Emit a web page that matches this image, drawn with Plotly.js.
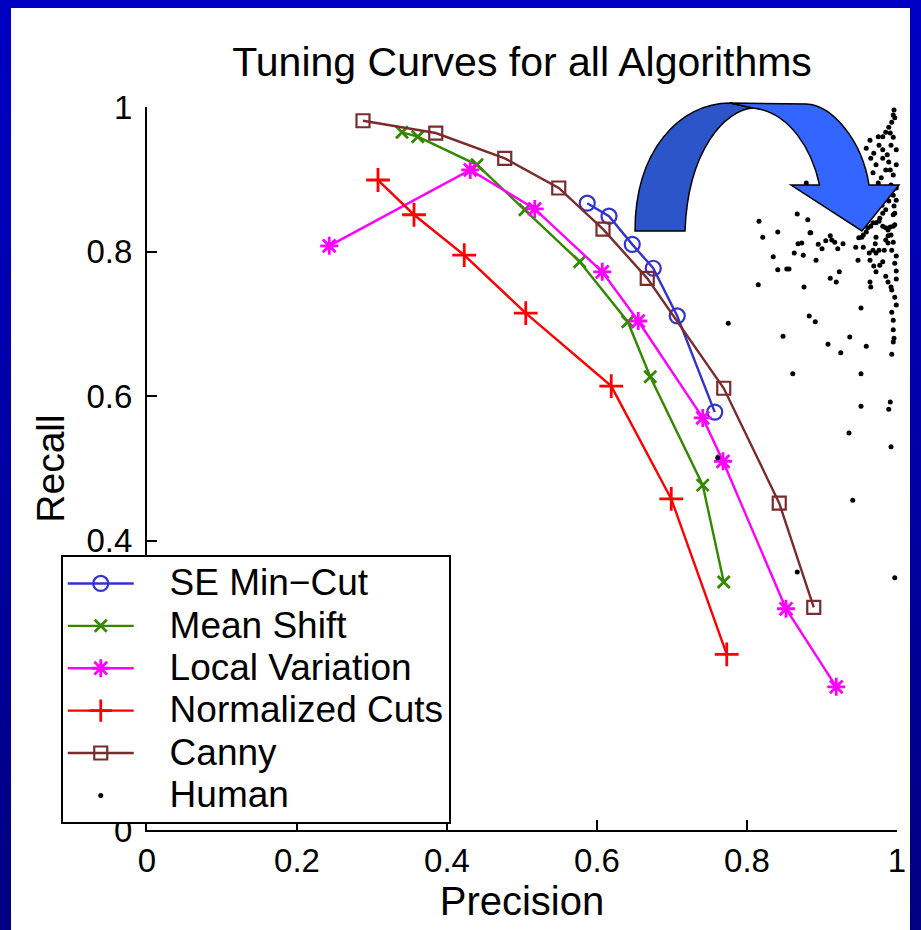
<!DOCTYPE html>
<html>
<head>
<meta charset="utf-8">
<script src="https://cdn.plot.ly/plotly-3.0.1.min.js"></script>
<style>
  html, body { margin: 0; padding: 0; width: 921px; height: 930px; overflow: hidden; }
  body { background: linear-gradient(to bottom, #0000C4 0%, #0000A8 45%, #000080 100%); position: relative; }
  #plot { position: absolute; left: 11px; top: 8px; width: 899px; height: 922px; background: #ffffff; }
</style>
</head>
<body>
<div id="plot"></div>
<script>
// ---- data ----
const seMinCutX = [0.587, 0.616, 0.647, 0.675, 0.707, 0.757];
const seMinCutY = [0.867, 0.849, 0.810, 0.777, 0.711, 0.578];

const meanShiftX = [0.340, 0.361, 0.440, 0.504, 0.577, 0.641, 0.671, 0.741, 0.769];
const meanShiftY = [0.965, 0.959, 0.920, 0.858, 0.786, 0.703, 0.627, 0.477, 0.343];

const localVarX = [0.243, 0.431, 0.517, 0.607, 0.655, 0.741, 0.768, 0.852, 0.919];
const localVarY = [0.808, 0.913, 0.859, 0.772, 0.704, 0.570, 0.510, 0.306, 0.198];

const ncutsX = [0.308, 0.356, 0.423, 0.505, 0.619, 0.699, 0.773];
const ncutsY = [0.899, 0.851, 0.795, 0.715, 0.614, 0.458, 0.243];

const cannyX = [0.288, 0.385, 0.477, 0.549, 0.608, 0.667, 0.769, 0.843, 0.889];
const cannyY = [0.981, 0.964, 0.929, 0.888, 0.831, 0.763, 0.611, 0.452, 0.308];

const humanX = [0.816,0.867,0.881,0.841,0.821,0.885,0.911,0.905,0.917,0.928,0.868,0.873,0.895,0.900,0.921,
  0.863,0.875,0.835,0.892,0.853,0.856,0.841,0.923,0.911,0.919,0.815,0.876,0.883,0.891,0.848,0.937,0.952,
  0.993,0.992,0.997,0.999,0.964,0.965,0.985,0.999,0.972,0.969,0.948,0.964,0.981,0.997,0.972,0.976,0.968,
  0.963,0.955,0.945,0.971,0.972,0.959,0.953,0.968,0.977,0.985,0.991,0.992,0.985,0.995,0.988,0.981,0.997,
  0.997,0.996,0.993,0.908,0.959,0.925,0.995,0.993,0.861,0.952,0.952,0.991,0.989,0.936,0.992,0.941,0.867,
  0.997,0.775,0.761,0.879,0.884,0.913,0.949,0.961,0.965,0.972,
  0.996,0.995,0.993,0.989,0.985,0.975,0.981,0.995,0.992,0.959,0.969,0.981,0.965,0.981,0.972,0.989,0.985,
  0.995,0.968,0.979,0.975,0.992,0.995,0.989,0.996,0.985,0.995,0.976,0.981,0.988,0.995,0.955,0.988,
  0.997,0.991,0.999,0.987,0.999,0.984,0.977,0.999,0.980,0.972,0.964,0.976,0.991,0.999,0.993,0.999,0.983,
  0.977,0.988,0.999,0.995,0.995,0.937];
const humanY = [0.842,0.852,0.844,0.827,0.820,0.826,0.822,0.815,0.813,0.811,0.811,0.812,0.810,0.804,0.804,
  0.798,0.795,0.793,0.788,0.776,0.776,0.775,0.772,0.763,0.758,0.754,0.751,0.711,0.703,0.683,0.682,0.722,
  0.716,0.751,0.737,0.762,0.758,0.751,0.766,0.773,0.772,0.780,0.788,0.788,0.786,0.784,0.798,0.802,0.802,
  0.798,0.806,0.806,0.811,0.820,0.827,0.820,0.840,0.846,0.833,0.834,0.823,0.816,0.813,0.812,0.853,0.853,
  0.837,0.680,0.747,0.672,0.669,0.660,0.675,0.658,0.631,0.631,0.586,0.592,0.582,0.549,0.530,0.456,0.357,
  0.349,0.701,0.515,0.895,0.826,0.816,0.819,0.833,0.835,0.840,
  0.996,0.989,0.979,0.972,0.965,0.959,0.959,0.958,0.947,0.943,0.936,0.941,0.929,0.929,0.920,0.924,0.913,
  0.906,0.909,0.902,0.895,0.892,0.878,0.870,0.863,0.858,0.851,0.842,0.835,0.830,0.835,0.823,0.822,
  0.985,0.964,0.941,0.934,0.920,0.885,0.877,0.888,0.864,0.871,0.954,0.947,0.913,0.871,0.802,0.794,0.802,
  0.781,0.758,0.726,0.705,0.692,0.849];

const seriesNames = ['SE Min\u2212Cut', 'Mean Shift', 'Local Variation', 'Normalized Cuts', 'Canny', 'Human'];

const xTickVals = [0, 0.2, 0.4, 0.6, 0.8, 1];
const xTickText = ['0', '0.2', '0.4', '0.6', '0.8', '1'];
const yTickVals = [0, 0.2, 0.4, 0.6, 0.8, 1];
const yTickText = ['0', '0.2', '0.4', '0.6', '0.8', '1'];

const titleText = 'Tuning Curves for all Algorithms';
const xTitle = 'Precision';
const yTitle = 'Recall';

// ---- styling ----
const FONT = 'Liberation Sans, Arial, Helvetica, sans-serif';
const legendLabel = (s) => '<span style="font-size:37px">\u00A0\u00A0\u00A0' + s + '</span>';

const traces = [
  { name: legendLabel(seriesNames[0]), x: seMinCutX, y: seMinCutY, type: 'scatter', mode: 'lines+markers',
    line: { color: '#3333CC', width: 2.4 },
    marker: { symbol: 'circle-open', size: 15, color: '#3333CC', line: { width: 2.2, color: '#3333CC' } } },
  { name: legendLabel(seriesNames[1]), x: meanShiftX, y: meanShiftY, type: 'scatter', mode: 'lines+markers',
    line: { color: '#338800', width: 2.4 },
    marker: { symbol: 'x-thin-open', size: 12, color: '#338800', line: { width: 2.8, color: '#338800' } } },
  { name: legendLabel(seriesNames[2]), x: localVarX, y: localVarY, type: 'scatter', mode: 'lines+markers',
    line: { color: '#FF00FF', width: 2.4 },
    marker: { symbol: 'asterisk-open', size: 15, color: '#FF00FF', line: { width: 2.8, color: '#FF00FF' } } },
  { name: legendLabel(seriesNames[3]), x: ncutsX, y: ncutsY, type: 'scatter', mode: 'lines+markers',
    line: { color: '#FF0000', width: 2.4 },
    marker: { symbol: 'cross-thin-open', size: 17, color: '#FF0000', line: { width: 2.8, color: '#FF0000' } } },
  { name: legendLabel(seriesNames[4]), x: cannyX, y: cannyY, type: 'scatter', mode: 'lines+markers',
    line: { color: '#7A2C2C', width: 2.4 },
    marker: { symbol: 'square-open', size: 13, color: '#7A2C2C', line: { width: 2.2, color: '#7A2C2C' } } },
  { name: legendLabel(seriesNames[5]), x: humanX, y: humanY, type: 'scatter', mode: 'markers', cliponaxis: false,
    marker: { symbol: 'circle', size: 5, color: '#000000' } }
];

// ---- decorative curved arrow (paper coordinates) ----
const arrowBack = 'M 0.6507,0.8285 C 0.6507,0.9405 0.7107,1.0055 0.7773,1.0055 L 0.808,0.9986 ' +
                  'C 0.7707,0.9959 0.7213,0.9405 0.7173,0.8285 Z';
const arrowFront = 'M 0.7773,1.0055 L 0.8787,1.0041 C 0.9133,1.0028 0.9533,0.9544 0.9627,0.8921 ' +
                   'L 1.0027,0.8921 L 0.9533,0.8285 L 0.8587,0.8921 L 0.8967,0.8921 ' +
                   'C 0.8867,0.9405 0.8573,0.9931 0.808,0.9986 Z';

const layout = {
  width: 899, height: 922,
  margin: { l: 136, r: 13, t: 99, b: 100 },
  paper_bgcolor: '#ffffff', plot_bgcolor: '#ffffff',
  font: { family: FONT, color: '#000000' },
  showlegend: true,
  title: { text: titleText, font: { size: 41, family: FONT, color: '#000' },
           xref: 'container', yref: 'container', x: 0.5685, y: 0.9414, xanchor: 'center', yanchor: 'middle' },
  xaxis: {
    range: [0, 1], tickvals: xTickVals, ticktext: xTickText,
    showline: true, linecolor: '#000', linewidth: 2, mirror: false,
    ticks: 'inside', ticklen: 10, tickwidth: 2, tickcolor: '#000',
    showgrid: false, zeroline: false, fixedrange: true,
    tickfont: { size: 33, family: FONT }, ticklabelstandoff: 0,
    title: { text: xTitle, font: { size: 40, family: FONT }, standoff: 6 }
  },
  yaxis: {
    range: [0, 1], tickvals: yTickVals, ticktext: yTickText,
    showline: true, linecolor: '#000', linewidth: 2, mirror: false,
    ticks: 'inside', ticklen: 10, tickwidth: 2, tickcolor: '#000',
    showgrid: false, zeroline: false, fixedrange: true,
    tickfont: { size: 33, family: FONT }, ticklabelstandoff: 6,
    title: { text: yTitle, font: { size: 39, family: FONT }, standoff: 10 }
  },
  legend: {
    x: -0.115, y: 0.38, xanchor: 'left', yanchor: 'top',
    bgcolor: '#ffffff', bordercolor: '#000000', borderwidth: 2,
    font: { size: 30.3, family: FONT, color: '#000' },
    itemwidth: 66, tracegroupgap: 0
  },
  shapes: [
    { type: 'path', xref: 'paper', yref: 'paper', path: arrowBack, layer: 'above',
      fillcolor: '#2B55C8', line: { color: '#000000', width: 1.5 } },
    { type: 'path', xref: 'paper', yref: 'paper', path: arrowFront, layer: 'above',
      fillcolor: '#3366FF', line: { color: '#000000', width: 1.5 } }
  ]
};

Plotly.newPlot('plot', traces, layout, { displayModeBar: false, staticPlot: true });
</script>
</body>
</html>
